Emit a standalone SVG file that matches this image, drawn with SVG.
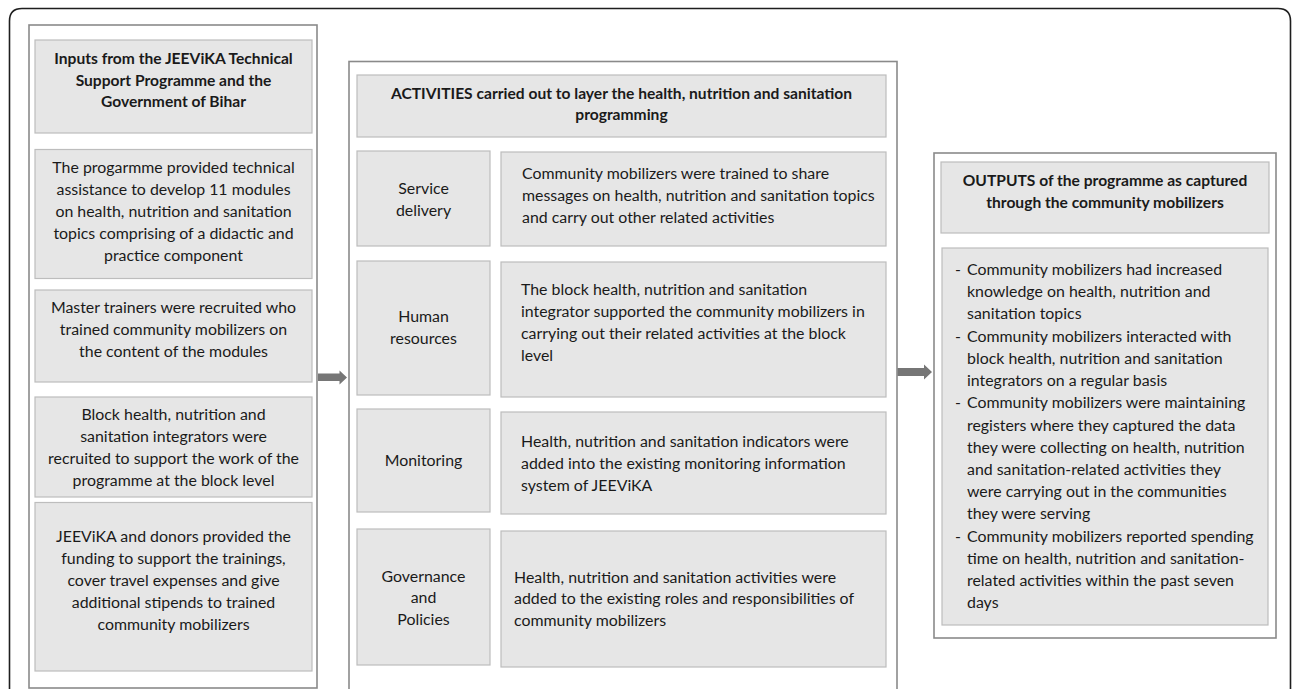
<svg xmlns="http://www.w3.org/2000/svg" width="1292" height="689" viewBox="0 0 1292 689">
  <style>
    .frame { fill: none; stroke: #1e1e1e; stroke-width: 1.6; }
    .panel { fill: #ffffff; stroke: #8a8a8a; stroke-width: 1.6; }
    .box { fill: #e6e6e6; stroke: #bdbdbd; stroke-width: 1.2; }
    .arrow { fill: #767676; }
    text { font-family: Lato, "Liberation Sans", sans-serif; font-size: 15.9px; fill: #1a1a1a; }
    .c { text-anchor: middle; }
    .b { font-weight: bold; font-size: 15.6px; }
  </style>

  <!-- outer rounded frame, open at the bottom -->
  <path class="frame" d="M9.5,700 V21 Q9.5,8.5 22,8.5 H1278 Q1290.5,8.5 1290.5,21 V700"/>

  <!-- INPUTS column -->
  <g id="inputs-panel">
    <rect class="panel" x="29" y="25" width="288" height="663"/>
  </g>
  <g id="inputs-header">
    <rect class="box" x="35" y="40" width="277" height="93"/>
    <text class="c b" x="173.5" y="64">Inputs from the JEEViKA Technical</text>
    <text class="c b" x="173.5" y="85.5">Support Programme and the</text>
    <text class="c b" x="173.5" y="107">Government of Bihar</text>
  </g>
  <g id="input-modules">
    <rect class="box" x="35" y="149.5" width="277" height="129"/>
    <text class="c" x="173.5" y="172.5">The progarmme provided technical</text>
    <text class="c" x="173.5" y="194.5">assistance to develop 11 modules</text>
    <text class="c" x="173.5" y="216.5">on health, nutrition and sanitation</text>
    <text class="c" x="173.5" y="238.5">topics comprising of a didactic and</text>
    <text class="c" x="173.5" y="260.5">practice component</text>
  </g>
  <g id="input-trainers">
    <rect class="box" x="35" y="290" width="277" height="92"/>
    <text class="c" x="173.5" y="312.5">Master trainers were recruited who</text>
    <text class="c" x="173.5" y="334.5">trained community mobilizers on</text>
    <text class="c" x="173.5" y="356.5">the content of the modules</text>
  </g>
  <g id="input-integrators">
    <rect class="box" x="35" y="397" width="277" height="100"/>
    <text class="c" x="173.5" y="419.5">Block health, nutrition and</text>
    <text class="c" x="173.5" y="441.5">sanitation integrators were</text>
    <text class="c" x="173.5" y="463.5">recruited to support the work of the</text>
    <text class="c" x="173.5" y="485.5">programme at the block level</text>
  </g>
  <g id="input-funding">
    <rect class="box" x="35" y="502.5" width="277" height="168.5"/>
    <text class="c" x="173.5" y="541.5">JEEViKA and donors provided the</text>
    <text class="c" x="173.5" y="563.5">funding to support the trainings,</text>
    <text class="c" x="173.5" y="585.5">cover travel expenses and give</text>
    <text class="c" x="173.5" y="607.5">additional stipends to trained</text>
    <text class="c" x="173.5" y="629.5">community mobilizers</text>
  </g>

  <!-- ACTIVITIES column -->
  <g id="activities-panel">
    <rect class="panel" x="349" y="61.5" width="548" height="650"/>
  </g>
  <g id="activities-header">
    <rect class="box" x="357" y="75" width="529" height="62"/>
    <text class="c b" x="621.5" y="98.5">ACTIVITIES carried out to layer the health, nutrition and sanitation</text>
    <text class="c b" x="621.5" y="119.5">programming</text>
  </g>
  <g id="service-delivery">
    <rect class="box" x="357" y="151" width="133" height="95"/>
    <text class="c" x="423.5" y="194">Service</text>
    <text class="c" x="423.5" y="216">delivery</text>
  </g>
  <g id="service-delivery-detail">
    <rect class="box" x="501" y="152" width="385" height="94"/>
    <text x="522" y="178.5">Community mobilizers were trained to share</text>
    <text x="522" y="200.5">messages on health, nutrition and sanitation topics</text>
    <text x="522" y="222.5">and carry out other related activities</text>
  </g>
  <g id="human-resources">
    <rect class="box" x="357" y="261" width="133" height="134"/>
    <text class="c" x="423.5" y="322">Human</text>
    <text class="c" x="423.5" y="344">resources</text>
  </g>
  <g id="human-resources-detail">
    <rect class="box" x="501" y="262" width="385" height="135"/>
    <text x="521" y="294.5">The block health, nutrition and sanitation</text>
    <text x="521" y="316.5">integrator supported the community mobilizers in</text>
    <text x="521" y="338.5">carrying out their related activities at the block</text>
    <text x="521" y="360.5">level</text>
  </g>
  <g id="monitoring">
    <rect class="box" x="357" y="409" width="133" height="103"/>
    <text class="c" x="423.5" y="465.5">Monitoring</text>
  </g>
  <g id="monitoring-detail">
    <rect class="box" x="501" y="412" width="385" height="102"/>
    <text x="521" y="446.5">Health, nutrition and sanitation indicators were</text>
    <text x="521" y="468.5">added into the existing monitoring information</text>
    <text x="521" y="490.5">system of JEEViKA</text>
  </g>
  <g id="governance">
    <rect class="box" x="357" y="529" width="133" height="136"/>
    <text class="c" x="423.5" y="581.5">Governance</text>
    <text class="c" x="423.5" y="603">and</text>
    <text class="c" x="423.5" y="624.5">Policies</text>
  </g>
  <g id="governance-detail">
    <rect class="box" x="501" y="531" width="385" height="136"/>
    <text x="514" y="582.5">Health, nutrition and sanitation activities were</text>
    <text x="514" y="604">added to the existing roles and responsibilities of</text>
    <text x="514" y="626">community mobilizers</text>
  </g>

  <!-- OUTPUTS column -->
  <g id="outputs-panel">
    <rect class="panel" x="934" y="153" width="342" height="485"/>
  </g>
  <g id="outputs-header">
    <rect class="box" x="941" y="162" width="328" height="71"/>
    <text class="c b" x="1105" y="185.5">OUTPUTS of the programme as captured</text>
    <text class="c b" x="1105" y="207.5">through the community mobilizers</text>
  </g>
  <g id="outputs-list">
    <rect class="box" x="942" y="248" width="326" height="377"/>
    <text x="955" y="274.5">-</text>
    <text x="967" y="274.5">Community mobilizers had increased</text>
    <text x="967" y="297">knowledge on health, nutrition and</text>
    <text x="967" y="319">sanitation topics</text>
    <text x="955" y="341.5">-</text>
    <text x="967" y="341.5">Community mobilizers interacted with</text>
    <text x="967" y="363.5">block health, nutrition and sanitation</text>
    <text x="967" y="386">integrators on a regular basis</text>
    <text x="955" y="408">-</text>
    <text x="967" y="408">Community mobilizers were maintaining</text>
    <text x="967" y="430.5">registers where they captured the data</text>
    <text x="967" y="452.5">they were collecting on health, nutrition</text>
    <text x="967" y="474.5">and sanitation-related activities they</text>
    <text x="967" y="497">were carrying out in the communities</text>
    <text x="967" y="519">they were serving</text>
    <text x="955" y="541.5">-</text>
    <text x="967" y="541.5">Community mobilizers reported spending</text>
    <text x="967" y="563.5">time on health, nutrition and sanitation-</text>
    <text x="967" y="586">related activities within the past seven</text>
    <text x="967" y="608">days</text>
  </g>

  <!-- connectors between the columns -->
  <g id="connectors">
    <path class="arrow" d="M318,373.5 H339.5 V370.5 L347,377.5 L339.5,384.5 V381 H318 Z"/>
    <path class="arrow" d="M897.5,368 H924 V364.5 L932,372 L924,379.5 V376 H897.5 Z"/>
  </g>
</svg>
